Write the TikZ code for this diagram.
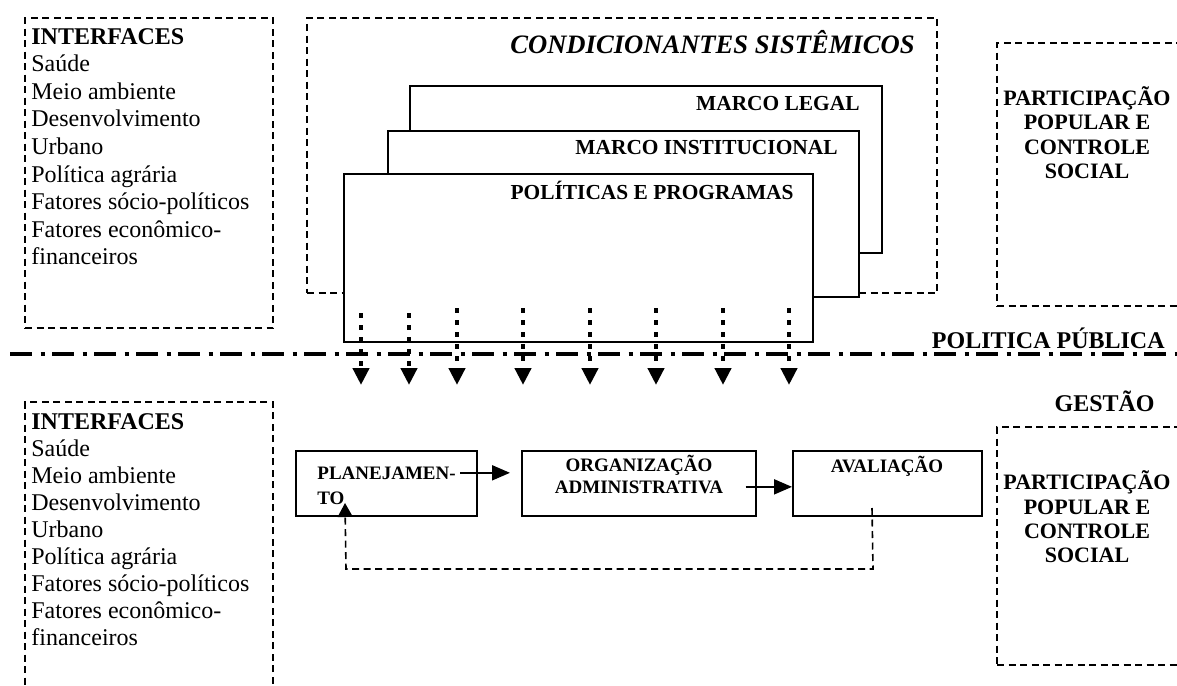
\documentclass[tikz,border=0pt]{standalone}
\usepackage{fontspec}
\setmainfont{Liberation Serif}
\usetikzlibrary{arrows.meta,fit,calc}

\begin{document}
\begin{tikzpicture}[x=0.5pt,y=-0.5pt,
  dashbox/.style={draw, line width=0.8pt, dash pattern=on 3.5pt off 2.25pt, inner sep=0pt},
  framebox/.style={draw, fill=white, line width=1pt, inner sep=0pt},
  itxt/.style={inner sep=0pt, anchor=base west, font=\fontsize{12}{13.8}\selectfont},
  ptxt/.style={inner sep=0pt, anchor=base, font=\bfseries\fontsize{11}{12.5}\selectfont},
  mtxt/.style={inner sep=0pt, anchor=base east, font=\bfseries\fontsize{10.7}{12}\selectfont},
  btxt/.style={inner sep=0pt, font=\bfseries\fontsize{9.5}{11}\selectfont},
  htxt/.style={inner sep=0pt, anchor=base east, font=\bfseries\fontsize{12}{13.8}\selectfont},
  dotarrow/.style={line width=2.25pt, dash pattern=on 2.25pt off 3.75pt,
    -{Triangle[length=8.5pt,width=8pt]}},
  dashdot/.style={line width=2pt, dash pattern=on 11pt off 4.25pt on 2pt off 3.75pt},
  flow/.style={line width=1pt, -{Triangle[length=9pt,width=7.5pt]}},
  feedback/.style={line width=0.8pt, dash pattern=on 3.5pt off 2.25pt,
    -{Triangle[length=7pt,width=7.5pt]}}
]
\fill[white] (0,0) rectangle (1177,685);
\useasboundingbox (0,0) rectangle (1177,685);
\clip (0,0) rectangle (1177,685);

% ---------- upper half: public policy ----------
\node[dashbox, fit={(25,18)(273,328)}] (ifa) {};
\node[itxt] (ia0) at (31,44) {\textbf{INTERFACES}};
\foreach \t [count=\i] in {Saúde, Meio ambiente, Desenvolvimento, Urbano,
  Política agrária, Fatores sócio-políticos, Fatores econômico-, financeiros}
  \node[itxt] (ia\i) at (31,{44+27.6*\i}) {\t};

\node[dashbox, fit={(307,18)(937,293)}] (cond) {};
\node[inner sep=0pt, anchor=base east, font=\bfseries\itshape\fontsize{13.3}{15}\selectfont]
  (condt) at (915,54) {CONDICIONANTES SISTÊMICOS};

\node[framebox, fit={(410,86)(882,253)}] (legal) {};
\node[mtxt] (legalt) at (860,110) {MARCO LEGAL};
\node[framebox, fit={(388,131)(859,297)}] (inst) {};
\node[mtxt] (instt) at (838,154) {MARCO INSTITUCIONAL};
\node[framebox, fit={(344,174)(813,342)}] (pol) {};
\node[mtxt] (polt) at (794,199) {POLÍTICAS E PROGRAMAS};

\node[dashbox, fit={(997,43)(1200,306)}] (parta) {};
\node[ptxt] (pa1) at (1087,105.3) {PARTICIPAÇÃO};
\node[ptxt] (pa2) at (1087,129.8) {POPULAR E};
\node[ptxt] (pa3) at (1087,154.3) {CONTROLE};
\node[ptxt] (pa4) at (1087,178.8) {SOCIAL};

% ---------- dividing line ----------
\coordinate (dl) at (10,354);
\coordinate (dr) at (1185,354);
\draw[dashdot] (dl) -- (dr);
\node[htxt] (polpub) at (1165,348) {POLITICA PÚBLICA};
\node[htxt] (gestao) at (1155,411) {GESTÃO};

% policies flowing down into management
\foreach \x/\ys [count=\i] in {361/313, 409/313, 457/308, 523/308,
  590/308, 656/308, 723/308, 789/308} {
  \coordinate (da\i) at (\x,\ys);
  \coordinate (db\i) at (\x,385);
  \draw[dotarrow] (da\i) -- (db\i);
}

% ---------- lower half: management ----------
\node[dashbox, fit={(25,402)(273,700)}] (ifb) {};
\node[itxt] (ib0) at (31,429.7) {\textbf{INTERFACES}};
\foreach \t [count=\i] in {Saúde, Meio ambiente, Desenvolvimento, Urbano,
  Política agrária, Fatores sócio-políticos, Fatores econômico-, financeiros}
  \node[itxt] (ib\i) at (31,{429.7+27.0*\i}) {\t};

\node[framebox, fit={(296,451)(477,516)}] (plan) {};
\node[btxt, anchor=base west] (plan1) at (317,479) {PLANEJAMEN-};
\node[btxt, anchor=base west] (plan2) at (317,504) {TO};

\node[framebox, fit={(522,451)(756,516)}] (org) {};
\node[btxt, anchor=base] (org1) at (639,471) {ORGANIZAÇÃO};
\node[btxt, anchor=base] (org2) at (639,493) {ADMINISTRATIVA};

\node[framebox, fit={(793,451)(982,516)}] (aval) {};
\node[btxt, anchor=base] (aval1) at (887,472) {AVALIAÇÃO};

\draw[flow] ($(plan1.east)+(4,0)$) -- ($(plan1.east -| org.west)+(-11,0)$);
\draw[flow] ($(org2.east)+(22,0)$) -- (org2.east -| aval.west);

\coordinate (fb1) at ($(aval.south west)+(80,-9)$);
\coordinate (fb2) at (873,569);
\coordinate (fb3) at (346,569);
\coordinate (fb4) at ($(plan.south west)+(50,-14)$);
\draw[feedback] (fb1) -- (fb2) -- (fb3) -- (fb4);

\node[dashbox, fit={(997,427)(1200,665)}] (partb) {};
\node[ptxt] (pb1) at (1087,489.3) {PARTICIPAÇÃO};
\node[ptxt] (pb2) at (1087,514.3) {POPULAR E};
\node[ptxt] (pb3) at (1087,538.3) {CONTROLE};
\node[ptxt] (pb4) at (1087,562.3) {SOCIAL};
\end{tikzpicture}
\end{document}
